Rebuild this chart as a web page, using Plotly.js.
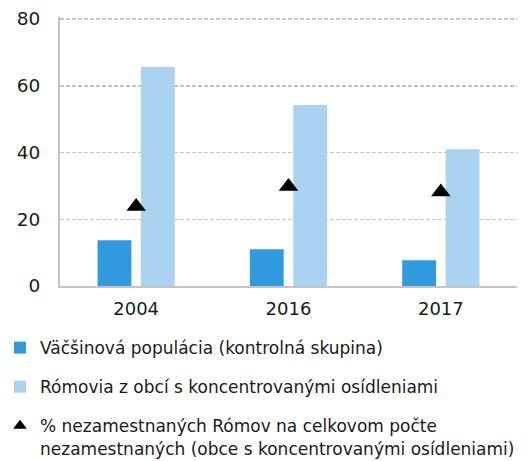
<!DOCTYPE html>
<html>
<head>
<meta charset="utf-8">
<script src="https://cdn.plot.ly/plotly-3.0.1.min.js"></script>
<style>html,body{margin:0;padding:0;background:#fff;}#chart{width:527px;height:461px;}</style>
</head>
<body>
<div id="chart"></div>
<script>
var years = ['2004', '2016', '2017'];
var majority = [13.7, 11.0, 7.7];
var roma = [65.6, 54.2, 41.0];
var romaShare = [23.8, 29.8, 28.2];
var seriesNames = [
  'Väčšinová populácia (kontrolná skupina)',
  'Rómovia z obcí s koncentrovanými osídleniami',
  '% nezamestnaných Rómov na celkovom počte<br>nezamestnaných (obce s koncentrovanými osídleniami)'
];
var yTicks = [0, 20, 40, 60, 80];

var traces = [
  {type: 'bar', x: years, y: majority, name: seriesNames[0], legendgroup: 'a',
   marker: {color: '#2F9BDE'}},
  {type: 'bar', x: years, y: roma, name: seriesNames[1], legendgroup: 'b',
   marker: {color: '#AAD3F1'}},
  {type: 'scatter', mode: 'markers', x: years, y: romaShare, name: seriesNames[2], legendgroup: 'c',
   marker: {symbol: 'triangle-up', size: 17, color: '#000'}}
];

var layout = {
  width: 527, height: 461,
  margin: {l: 60, r: 10, t: 17, b: 175, autoexpand: false},
  paper_bgcolor: '#fff', plot_bgcolor: '#fff',
  font: {family: 'DejaVu Sans, sans-serif', size: 17, color: '#1a1a1a'},
  barmode: 'group', bargap: 0.43, bargroupgap: 0.22,
  showlegend: true,
  legend: {
    orientation: 'v', xref: 'container', yref: 'container',
    x: 0.0, y: 0.284, xanchor: 'left', yanchor: 'top',
    font: {size: 17, color: '#1a1a1a'},
    tracegroupgap: 14, itemsizing: 'constant', valign: 'top'
  },
  xaxis: {
    type: 'category', showgrid: false, showline: true, linecolor: '#C4C4C4', linewidth: 2,
    ticks: '', tickfont: {size: 18}, ticklabelstandoff: 5, zeroline: false, tickangle: 0
  },
  yaxis: {
    range: [0, 80.6], tickvals: yTicks, showgrid: true, gridcolor: '#C4C4C4', gridwidth: 1.5,
    griddash: '4px,2px', showline: true, linecolor: '#C4C4C4', linewidth: 2, zeroline: false,
    ticks: '', tickfont: {size: 18.5}, ticklabelstandoff: 14
  }
};

Plotly.newPlot('chart', traces, layout, {displayModeBar: false, staticPlot: true});
</script>
</body>
</html>
